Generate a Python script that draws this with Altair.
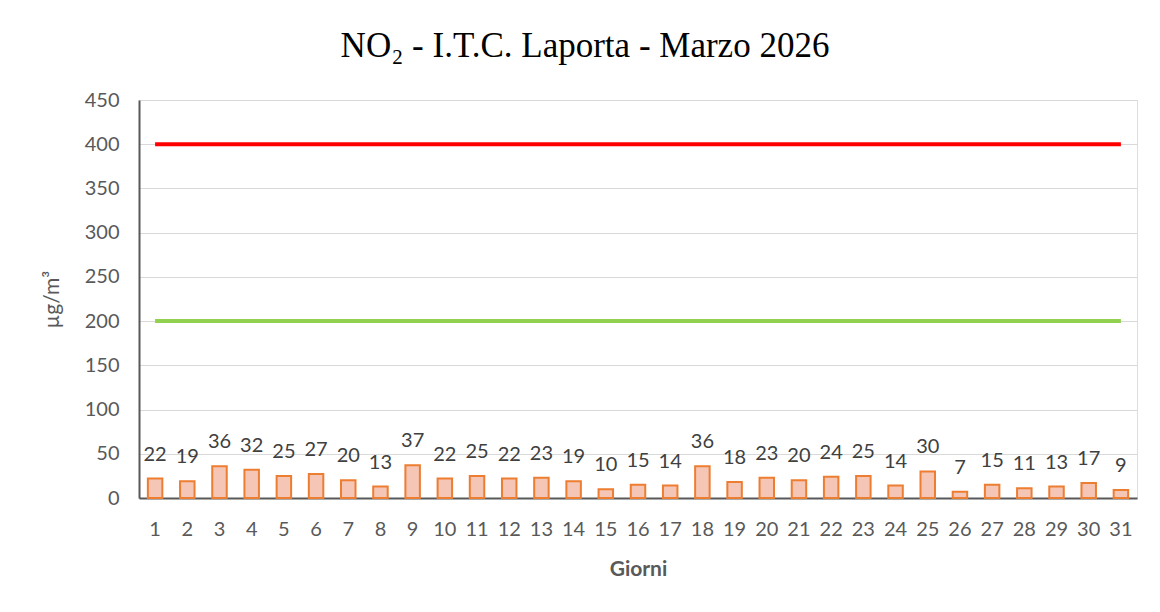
import altair as alt
import pandas as pd

days = list(range(1, 32))
values = [22, 19, 36, 32, 25, 27, 20, 13, 37, 22, 25, 22, 23, 19, 10, 15, 14, 36,
          18, 23, 20, 24, 25, 14, 30, 7, 15, 11, 13, 17, 9]
limit_hourly = 400
limit_alert = 200

df = pd.DataFrame({"giorno": days, "valore": values})
df["lim400"] = limit_hourly
df["lim200"] = limit_alert

FONT = "Lato"
GREY = "#595959"

x = alt.X("giorno:O", title="Giorni",
          scale=alt.Scale(paddingInner=0.55, paddingOuter=0.275),
          axis=alt.Axis(labelAngle=0, labelFont=FONT, labelFontSize=20, labelColor=GREY,
                        labelPadding=21, ticks=False, domainColor="#595959", domainWidth=2,
                        titleFont=FONT, titleFontSize=21, titleFontWeight="bold",
                        titleColor=GREY, titlePadding=19, grid=False))

base = alt.Chart(df)

bars = base.mark_bar(fill="#F5C6B6", stroke="#ED7D31", strokeWidth=2).encode(
    x=x,
    y=alt.Y("valore:Q", title="µg/m³",
            scale=alt.Scale(domain=[0, 450], nice=False),
            axis=alt.Axis(values=list(range(0, 451, 50)), labelFont=FONT, labelFontSize=20,
                          labelColor=GREY, labelPadding=20, ticks=False,
                          domainColor="#595959", domainWidth=2, gridColor="#D9D9D9",
                          gridWidth=1, titleFont=FONT, titleFontSize=21,
                          titleFontWeight="normal", titleColor=GREY, titlePadding=22)),
)

labels = base.mark_text(font=FONT, fontSize=20, color="#404040", baseline="bottom",
                        dy=-14).encode(x=x, y="valore:Q", text="valore:Q")

red = base.mark_line(color="#FF0000", strokeWidth=4).encode(x=x, y="lim400:Q")
green = base.mark_line(color="#92D050", strokeWidth=4).encode(x=x, y="lim200:Q")

chart = alt.layer(green, red, bars, labels).properties(
    width=998, height=398,
    autosize=alt.AutoSizeParams(type="none"),
    padding={"left": 131, "top": 92, "right": 15, "bottom": 106},
    title=alt.TitleParams("NO₂ - I.T.C. Laporta - Marzo 2026", font="Liberation Serif",
                          fontSize=35, fontWeight="normal", color="#000000",
                          anchor="middle", dx=-53, offset=26),
).configure_view(stroke=None).configure(background="white")

chart.save("out.html", embed_options={"renderer": "svg", "actions": False})
